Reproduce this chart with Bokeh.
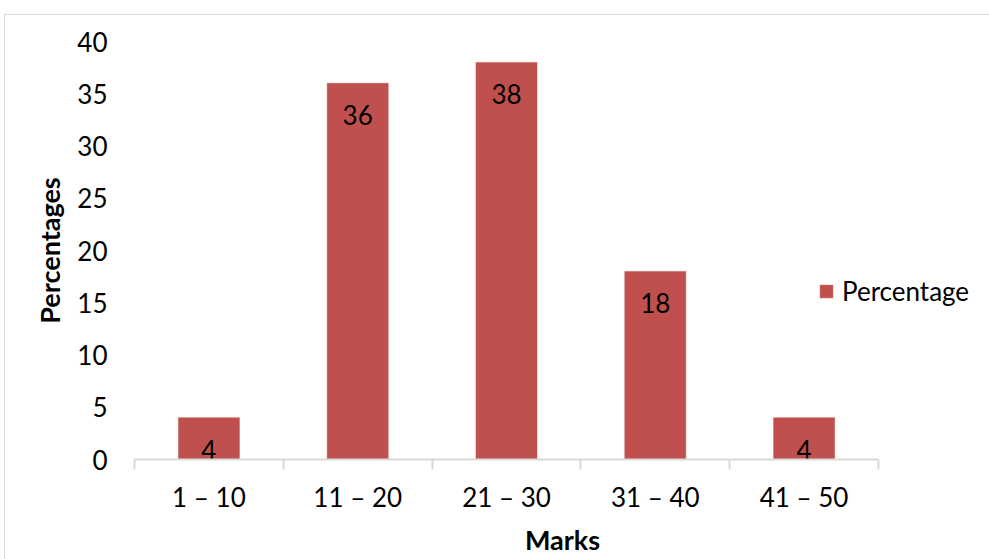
from bokeh.plotting import figure
from bokeh.models import FixedTicker, Legend, LegendItem, ColumnDataSource, Title
from bokeh.core.properties import value
from bokeh.embed import file_html
from bokeh.resources import INLINE

categories = ["1 \u2013 10", "11 \u2013 20", "21 \u2013 30", "31 \u2013 40", "41 \u2013 50"]
percentages = [4, 36, 38, 18, 4]
y_ticks = [0, 5, 10, 15, 20, 25, 30, 35, 40]

FONT = "Lato"
BAR = "#C0504D"

n = len(categories)
xs = [i + 0.5 for i in range(n)]
src = ColumnDataSource(dict(x=xs, top=percentages, label=[str(v) for v in percentages]))

# axis spans 744 px for the 5 categories; frame extends to the right edge for the legend
frame_w = 985 - 129
x_end = n * frame_w / 744.0

p = figure(width=985, height=545, x_range=(0, x_end), y_range=(0, 40),
           output_backend="svg", toolbar_location=None,
           min_border_left=129, min_border_right=0, min_border_top=26, min_border_bottom=101,
           margin=(14, 0, 0, 4))
p.styles = {"border-left": "1px solid #D9D9D9", "border-top": "1px solid #D9D9D9"}
p.outline_line_color = None
p.grid.visible = False
p.background_fill_color = "white"
p.border_fill_color = "white"

r = p.vbar(x="x", top="top", width=0.41, source=src, fill_color=BAR, line_color=BAR, line_width=0.5)

p.text(x="x", y="top", text="label", source=src, text_align="center", text_baseline="alphabetic",
       y_offset=32, text_font=value(FONT), text_font_size="26px", text_color="#000000")

# x axis
p.xaxis.bounds = (0, n)
p.xaxis.ticker = FixedTicker(ticks=xs, minor_ticks=list(range(n + 1)))
p.xaxis.major_label_overrides = {x: c for x, c in zip(xs, categories)}
p.xaxis.major_tick_line_color = None
p.xaxis.major_tick_out = 0
p.xaxis.minor_tick_out = 10
p.xaxis.minor_tick_in = 0
p.xaxis.minor_tick_line_color = "#D9D9D9"
p.xaxis.minor_tick_line_width = 2
p.xaxis.axis_line_color = "#D9D9D9"
p.xaxis.axis_line_width = 2
p.xaxis.major_label_standoff = 11
p.xaxis.major_label_text_font = FONT
p.xaxis.major_label_text_font_size = "26px"
p.xaxis.major_label_text_color = "#000000"

# x axis title, centred under the category axis (not the wider frame)
x_title = Title(text="Marks", align="center", offset=-(frame_w - 744) / 2.0,
                text_font=FONT, text_font_style="bold", text_font_size="27px",
                text_color="#000000", standoff=10)
p.add_layout(x_title, "below")

# y axis
p.yaxis.ticker = FixedTicker(ticks=y_ticks)
p.yaxis.axis_line_color = None
p.yaxis.major_tick_line_color = None
p.yaxis.minor_tick_line_color = None
p.yaxis.major_tick_out = 0
p.yaxis.major_label_standoff = 27
p.yaxis.major_label_text_font = FONT
p.yaxis.major_label_text_font_size = "26px"
p.yaxis.major_label_text_color = "#000000"
p.yaxis.axis_label = "Percentages"
p.yaxis.axis_label_text_font = FONT
p.yaxis.axis_label_text_font_style = "bold"
p.yaxis.axis_label_text_font_size = "27px"
p.yaxis.axis_label_text_color = "#000000"
p.yaxis.axis_label_standoff = 8

legend = Legend(items=[LegendItem(label="Percentage", renderers=[r])],
                location=(684, 152), padding=0, margin=0, spacing=0,
                glyph_width=16, glyph_height=16, label_height=16, label_standoff=8,
                label_text_font=FONT, label_text_font_size="26px", label_text_color="#000000",
                border_line_color=None, background_fill_alpha=0)
p.add_layout(legend)

open("out.html", "w").write(file_html(p, INLINE))
